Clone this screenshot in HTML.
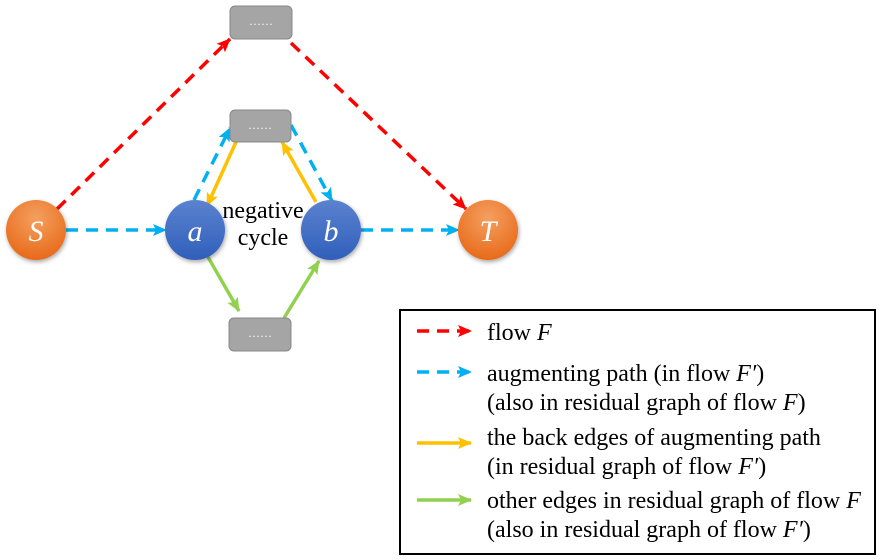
<!DOCTYPE html>
<html><head><meta charset="utf-8"><style>
body{margin:0;width:877px;height:559px;background:#fff;overflow:hidden}
svg{display:block}
text{font-family:"Liberation Serif",serif}
</style></head><body>
<svg width="877" height="559" viewBox="0 0 877 559">
<defs>
<marker id="mr" markerWidth="14" markerHeight="12" refX="13" refY="6" orient="auto" markerUnits="userSpaceOnUse" viewBox="0 0 14 12"><path d="M0,0L14,6L0,12L3,6z" fill="#f00"/></marker>
<marker id="mb" markerWidth="14" markerHeight="12" refX="13" refY="6" orient="auto" markerUnits="userSpaceOnUse" viewBox="0 0 14 12"><path d="M0,0L14,6L0,12L3,6z" fill="#00b0f0"/></marker>
<marker id="mo" markerWidth="14" markerHeight="12" refX="13" refY="6" orient="auto" markerUnits="userSpaceOnUse" viewBox="0 0 14 12"><path d="M0,0L14,6L0,12L3,6z" fill="#ffc000"/></marker>
<marker id="mg" markerWidth="14" markerHeight="12" refX="13" refY="6" orient="auto" markerUnits="userSpaceOnUse" viewBox="0 0 14 12"><path d="M0,0L14,6L0,12L3,6z" fill="#92d050"/></marker>
<radialGradient id="go" cx="0.5" cy="0.3" r="0.7"><stop offset="0" stop-color="#f4a060"/><stop offset="1" stop-color="#e86a1a"/></radialGradient>
<linearGradient id="gb" x1="0" y1="0" x2="0" y2="1"><stop offset="0" stop-color="#5b82cf"/><stop offset="1" stop-color="#2f5fbb"/></linearGradient>
<filter id="sh"><feDropShadow dx="1" dy="2" stdDeviation="2" flood-opacity="0.35"/></filter>
</defs>
<g stroke-width="3.5" fill="none">
<line x1="57" y1="209" x2="230" y2="39" stroke="#f00" stroke-dasharray="12,8" marker-end="url(#mr)"/>
<line x1="291" y1="43" x2="466" y2="209" stroke="#f00" stroke-dasharray="12,8" marker-end="url(#mr)"/>
<line x1="66" y1="230" x2="166" y2="230" stroke="#00b0f0" stroke-dasharray="12,8" marker-end="url(#mb)"/>
<line x1="361" y1="230" x2="459" y2="230" stroke="#00b0f0" stroke-dasharray="12,8" marker-end="url(#mb)"/>
<line x1="194" y1="200" x2="230" y2="128" stroke="#00b0f0" stroke-dasharray="12,8" marker-end="url(#mb)"/>
<line x1="291" y1="125" x2="332" y2="201" stroke="#00b0f0" stroke-dasharray="12,8" marker-end="url(#mb)"/>
<line x1="236" y1="142" x2="207" y2="206" stroke="#ffc000" marker-end="url(#mo)"/>
<line x1="316" y1="202" x2="282" y2="142" stroke="#ffc000" marker-end="url(#mo)"/>
<line x1="208" y1="257" x2="239" y2="311" stroke="#92d050" marker-end="url(#mg)"/>
<line x1="284" y1="318" x2="319" y2="261" stroke="#92d050" marker-end="url(#mg)"/>
</g>
<g fill="#a5a5a5" stroke="#888" stroke-width="1">
<rect x="230" y="6" width="62" height="33" rx="5"/>
<rect x="230" y="110" width="61" height="32" rx="5"/>
<rect x="229" y="318" width="62" height="33" rx="5"/>
</g>
<g fill="#fff" font-size="12" text-anchor="middle">
<text x="261" y="25">……</text><text x="260" y="129">……</text><text x="260" y="337">……</text>
</g>
<g filter="url(#sh)">
<circle cx="36" cy="230" r="30" fill="url(#go)"/>
<circle cx="488" cy="230" r="30" fill="url(#go)"/>
<circle cx="195" cy="230" r="30" fill="url(#gb)"/>
<circle cx="331" cy="230" r="30" fill="url(#gb)"/>
</g>
<g fill="#fff" font-size="30" font-style="italic" text-anchor="middle">
<text x="36" y="241">S</text><text x="488" y="241">T</text><text x="195" y="241">a</text><text x="331" y="241">b</text>
</g>
<g font-size="24" text-anchor="middle" fill="#000">
<text x="263" y="218">negative</text><text x="263" y="245">cycle</text>
</g>
<rect x="400" y="310" width="475" height="244" fill="none" stroke="#000" stroke-width="2"/>
<g stroke-width="3.5">
<line x1="417" y1="331" x2="471" y2="331" stroke="#f00" stroke-dasharray="12,8" marker-end="url(#mr)"/>
<line x1="417" y1="372" x2="471" y2="372" stroke="#00b0f0" stroke-dasharray="12,8" marker-end="url(#mb)"/>
<line x1="417" y1="443" x2="471" y2="443" stroke="#ffc000" marker-end="url(#mo)"/>
<line x1="417" y1="500" x2="471" y2="500" stroke="#92d050" marker-end="url(#mg)"/>
</g>
<g font-size="24" fill="#000">
<text x="487" y="340">flow <tspan font-style="italic">F</tspan></text>
<text x="487" y="381">augmenting path (in flow <tspan font-style="italic">F′</tspan>)</text>
<text x="487" y="410">(also in residual graph of flow <tspan font-style="italic">F</tspan>)</text>
<text x="487" y="445">the back edges of augmenting path</text>
<text x="487" y="474">(in residual graph of flow <tspan font-style="italic">F′</tspan>)</text>
<text x="487" y="508">other edges in residual graph of flow <tspan font-style="italic">F</tspan></text>
<text x="487" y="537">(also in residual graph of flow <tspan font-style="italic">F′</tspan>)</text>
</g>
</svg>
</body></html>
